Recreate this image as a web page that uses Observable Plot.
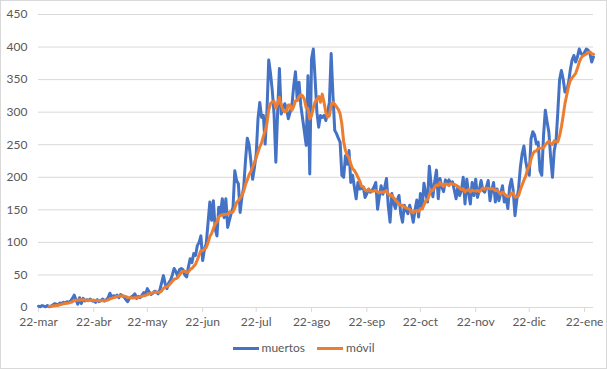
<!DOCTYPE html>
<html><head><meta charset="utf-8">
<script src="https://cdn.jsdelivr.net/npm/d3@7"></script>
<script src="https://cdn.jsdelivr.net/npm/@observablehq/plot@0.6"></script>
<style>
html,body{margin:0;padding:0;background:#fff;}
#chart{position:relative;width:607px;height:369px;overflow:hidden;font-family:Lato,"Open Sans",sans-serif;}
#chart svg{position:absolute;left:0;top:0;}
#frame{position:absolute;left:0;top:0;width:605px;height:367px;border:1px solid #d9d9d9;pointer-events:none;}
#legend{position:absolute;left:0;top:340px;width:607px;height:16px;display:flex;justify-content:center;align-items:center;font-size:12px;color:#595959;line-height:16px;}
.sw{display:inline-block;width:26px;height:3px;margin-right:3px;}
.lab{margin-right:12px;}
.lab:last-child{margin-right:0;}
</style></head>
<body><div id="chart"><div id="frame"></div></div>
<script>
const startDate = "2020-03-22";
const muertos = [
2,1,3,2,1,3,1,2,4,6,
5,4,7,6,8,7,9,8,10,14,
19,12,5,15,6,14,10,12,11,13,
10,10,8,12,9,11,13,10,12,15,
22,16,18,17,19,15,20,18,16,12,
9,14,16,18,21,14,17,15,19,23,
21,29,24,20,22,25,24,21,27,38,
49,36,29,38,42,50,60,55,48,58,
60,58,50,47,62,75,69,83,80,95,
100,110,72,90,98,130,162,134,164,121,
110,154,145,167,138,167,123,134,145,154,
210,195,190,146,170,185,226,260,250,225,
197,215,236,290,315,292,295,251,300,380,
360,333,297,223,300,367,297,305,313,305,
290,300,310,340,362,318,346,310,290,270,
249,356,205,382,397,351,300,277,295,292,
295,287,300,315,390,326,272,267,260,254,
203,200,233,220,241,192,203,185,167,192,
182,183,185,169,175,182,177,180,185,192,
151,170,187,174,185,198,156,131,175,160,
152,165,172,144,131,157,150,144,157,146,
131,150,165,139,175,152,191,175,162,217,
190,170,193,211,167,198,185,178,196,190,
196,191,193,180,167,185,172,180,200,159,
197,175,159,192,172,197,169,180,195,180,
177,185,195,164,180,192,162,182,164,175,
187,162,170,152,185,197,180,141,165,182,
215,236,248,225,210,203,259,270,265,251,
254,210,203,264,303,285,269,230,200,241,
255,300,350,364,351,331,333,345,365,380,
387,377,385,397,390,387,392,397,395,390,377,385
];
const tickDates = ["2020-03-22","2020-04-22","2020-05-22","2020-06-22","2020-07-22","2020-08-22","2020-09-22","2020-10-22","2020-11-22","2020-12-22","2021-01-22"];
const tickLabels = ["22-mar","22-abr","22-may","22-jun","22-jul","22-ago","22-sep","22-oct","22-nov","22-dic","22-ene"];
const yTicks = [0,50,100,150,200,250,300,350,400,450];
const seriesNames = ["muertos","móvil"];
const seriesColors = ["#4472C4","#ED7D31"];
const movingWindow = 7;

const start = new Date(startDate + "T00:00:00Z");
const data = muertos.map((v, i) => ({date: d3.utcDay.offset(start, i), muertos: v}));
const ticks = tickDates.map(s => new Date(s + "T00:00:00Z"));

const chart = Plot.plot({
  width: 607,
  height: 333,
  marginLeft: 38,
  marginRight: 14,
  marginTop: 14,
  marginBottom: 26,
  style: {fontFamily: "Lato, 'Open Sans', sans-serif", fontSize: "12px", background: "transparent", overflow: "visible"},
  x: {type: "utc", domain: [data[0].date, data[data.length - 1].date]},
  y: {domain: [0, 450]},
  marks: [
    Plot.gridY(yTicks, {stroke: "#d9d9d9", strokeOpacity: 1}),
    Plot.axisY(yTicks, {tickSize: 0, tickPadding: 11, fill: "#595959", label: null}),
    Plot.ruleY([0], {stroke: "#d9d9d9"}),
    Plot.axisX(ticks, {
      tickSize: 5, tickPadding: 5, stroke: "#d9d9d9", fill: "#595959", label: null,
      tickFormat: d => tickLabels[ticks.findIndex(t => +t === +d)]
    }),
    Plot.line(data, {x: "date", y: "muertos", stroke: seriesColors[0], strokeWidth: 3, strokeLinejoin: "round", strokeLinecap: "round"}),
    Plot.line(data, Plot.windowY({k: movingWindow, anchor: "end", reduce: "mean", strict: true},
      {x: "date", y: "muertos", stroke: seriesColors[1], strokeWidth: 3, strokeLinejoin: "round", strokeLinecap: "round"}))
  ]
});
const root = document.getElementById("chart");
root.insertBefore(chart, root.firstChild);

const legend = document.createElement("div");
legend.id = "legend";
seriesNames.forEach((n, i) => {
  const sw = document.createElement("span");
  sw.className = "sw";
  sw.style.background = seriesColors[i];
  const lab = document.createElement("span");
  lab.className = "lab";
  lab.textContent = n;
  legend.appendChild(sw);
  legend.appendChild(lab);
});
root.appendChild(legend);
</script>
</body></html>
